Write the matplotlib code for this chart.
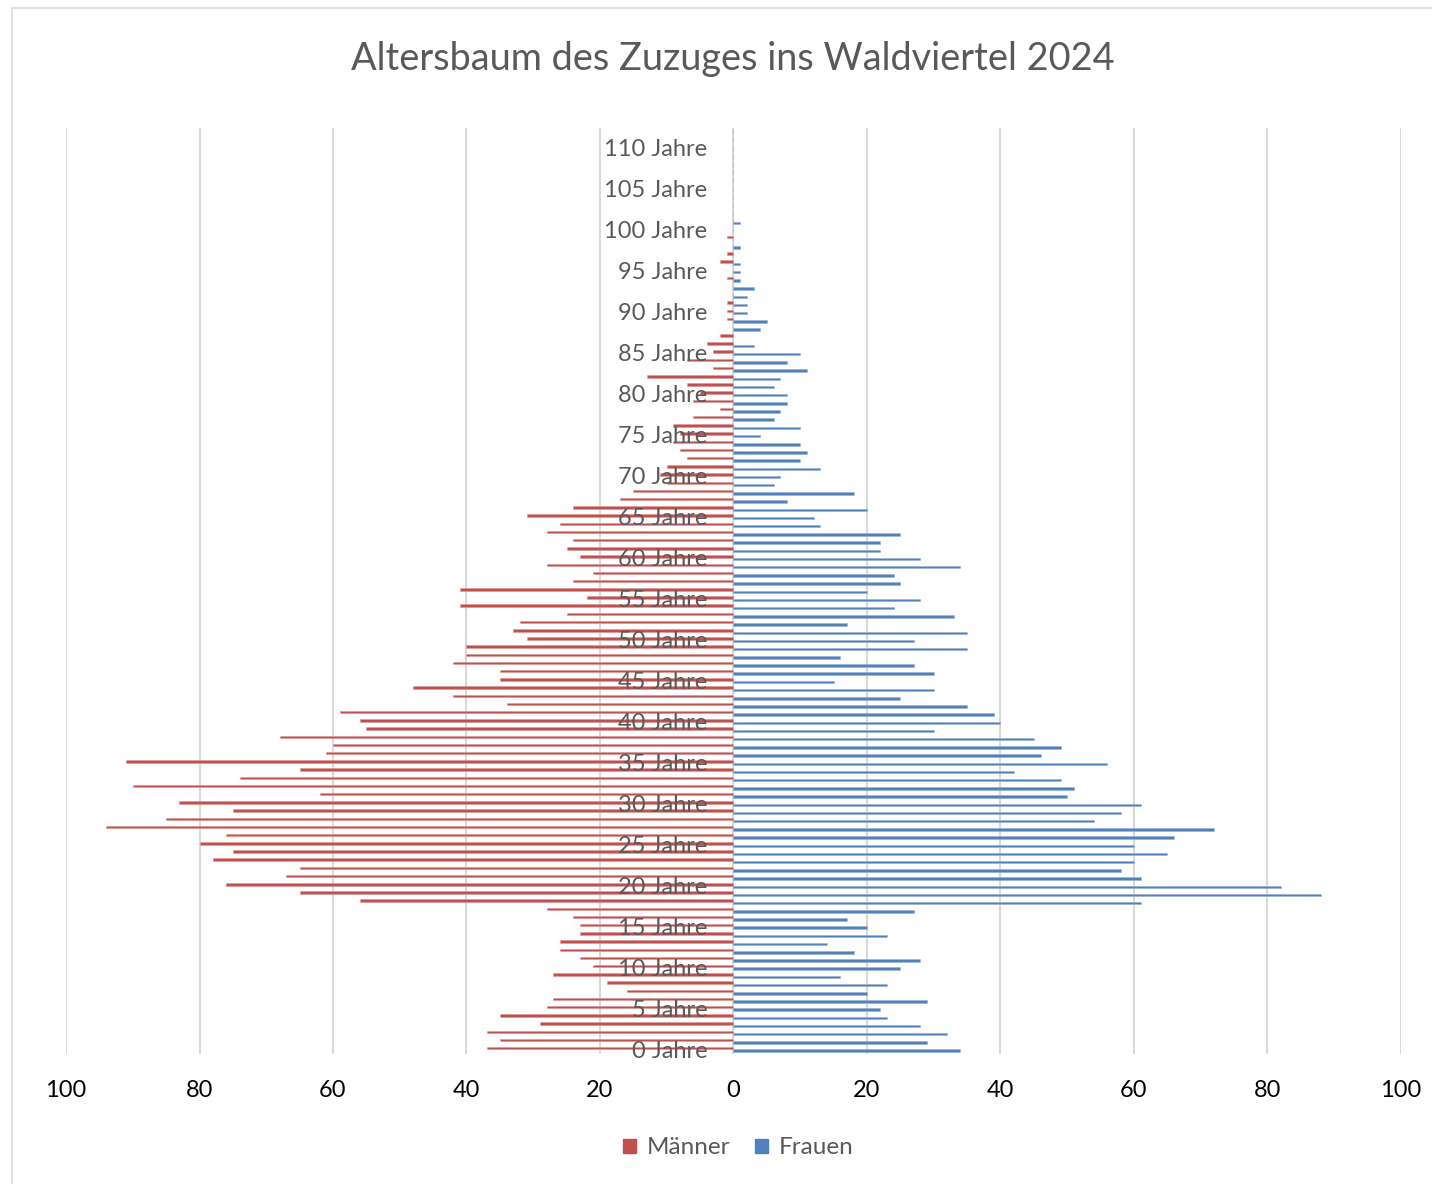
import numpy as np
import matplotlib
matplotlib.use("Agg")
import matplotlib.pyplot as plt
from matplotlib.patches import Patch, Rectangle

plt.rcParams["font.family"] = ["Lato", "DejaVu Sans"]

# ── Data: Zuzug ins Waldviertel 2024, Personen je Altersjahr ─────────────────
ages = np.arange(113)

maenner = [
    37, 35, 37, 29, 35, 28, 27, 16, 19, 27,
    21, 23, 26, 26, 23, 23, 24, 28, 56, 65,
    76, 67, 65, 78, 75, 80, 76, 94, 85, 75,
    83, 62, 90, 74, 65, 91, 61, 60, 68, 55,
    56, 59, 34, 42, 48, 35, 35, 42, 40, 40,
    31, 33, 32, 25, 41, 22, 41, 24, 21, 28,
    23, 25, 24, 28, 26, 31, 24, 17, 15, 10,
    11, 10, 7, 8, 9, 8, 9, 6, 2, 6,
    5, 7, 13, 3, 7, 3, 4, 2, 0, 1,
    1, 1, 0, 0, 1, 0, 2, 1, 0, 1,
    0, 0, 0, 0, 0, 0, 0, 0, 0, 0, 0, 0, 0,
]
frauen = [
    34, 29, 32, 28, 23, 22, 29, 20, 23, 16,
    25, 28, 18, 14, 23, 20, 17, 27, 61, 88,
    82, 61, 58, 60, 65, 60, 66, 72, 54, 58,
    61, 50, 51, 49, 42, 56, 46, 49, 45, 30,
    40, 39, 35, 25, 30, 15, 30, 27, 16, 35,
    27, 35, 17, 33, 24, 28, 20, 25, 24, 34,
    28, 22, 22, 25, 13, 12, 20, 8, 18, 6,
    7, 13, 10, 11, 10, 4, 10, 6, 7, 8,
    8, 6, 7, 11, 8, 10, 3, 0, 4, 5,
    2, 2, 2, 3, 1, 1, 1, 0, 1, 0,
    0, 1, 0, 0, 0, 0, 0, 0, 0, 0, 0, 0, 0,
]

age_ticks = list(range(0, 111, 5))
age_labels = [f"{a} Jahre" for a in age_ticks]
x_ticks = list(range(-100, 101, 20))
x_labels = [str(abs(v)) for v in x_ticks]

RED = "#C0504D"
BLUE = "#4F81BD"
GREY_TXT = "#595959"

fig = plt.figure(figsize=(14.32, 11.84), dpi=100)

# chart-area frame
fig.patches.append(Rectangle((12 / 1432, -0.01), 1.02, 1 - 8 / 1184 + 0.01,
                             transform=fig.transFigure, fill=False,
                             edgecolor="#d9d9d9", linewidth=1.2))

ax = fig.add_axes([66 / 1432, 1 - 1053.5 / 1184,
                   (1401 - 66) / 1432, (1053.5 - 127.6) / 1184])

m = np.array(maenner)
f = np.array(frauen)
ax.barh(ages + 0.15, -m, height=0.3, color=RED, edgecolor="#dc9997",
        linewidth=0.4, zorder=2)
ax.barh(ages - 0.15, f, height=0.3, color=BLUE, edgecolor="#9ab4d6",
        linewidth=0.4, zorder=2)

ax.set_xlim(-100, 100)
ax.set_ylim(-0.5, 112.5)

ax.set_xticks(x_ticks)
ax.set_xticklabels(x_labels, fontsize=17, color="black")
ax.tick_params(axis="x", length=0, pad=19)
ax.set_yticks([])
ax.grid(axis="x", color="#d9d9d9", linewidth=1.5, zorder=0)
ax.set_axisbelow(True)
for s in ax.spines.values():
    s.set_visible(False)

# age labels sit on the zero axis, drawn over the bars
for a, lab in zip(age_ticks, age_labels):
    ax.text(-3.9, a - 0.2, lab, ha="right", va="center", fontsize=17,
            color=GREY_TXT, zorder=5)

fig.text(733 / 1432, 1 - 59 / 1184, "Altersbaum des Zuzuges ins Waldviertel 2024",
         ha="center", va="center", fontsize=27.3, color=GREY_TXT)

handles = [Patch(color=RED, label="Männer"), Patch(color=BLUE, label="Frauen")]
fig.legend(handles=handles, loc="center", bbox_to_anchor=(0.5155, 1 - 1148 / 1184),
           ncol=2, frameon=False, fontsize=17.5, labelcolor=GREY_TXT,
           handlelength=0.55, handleheight=0.55, handletextpad=0.45,
           columnspacing=1.0)

fig.savefig("out.png", dpi=100)
